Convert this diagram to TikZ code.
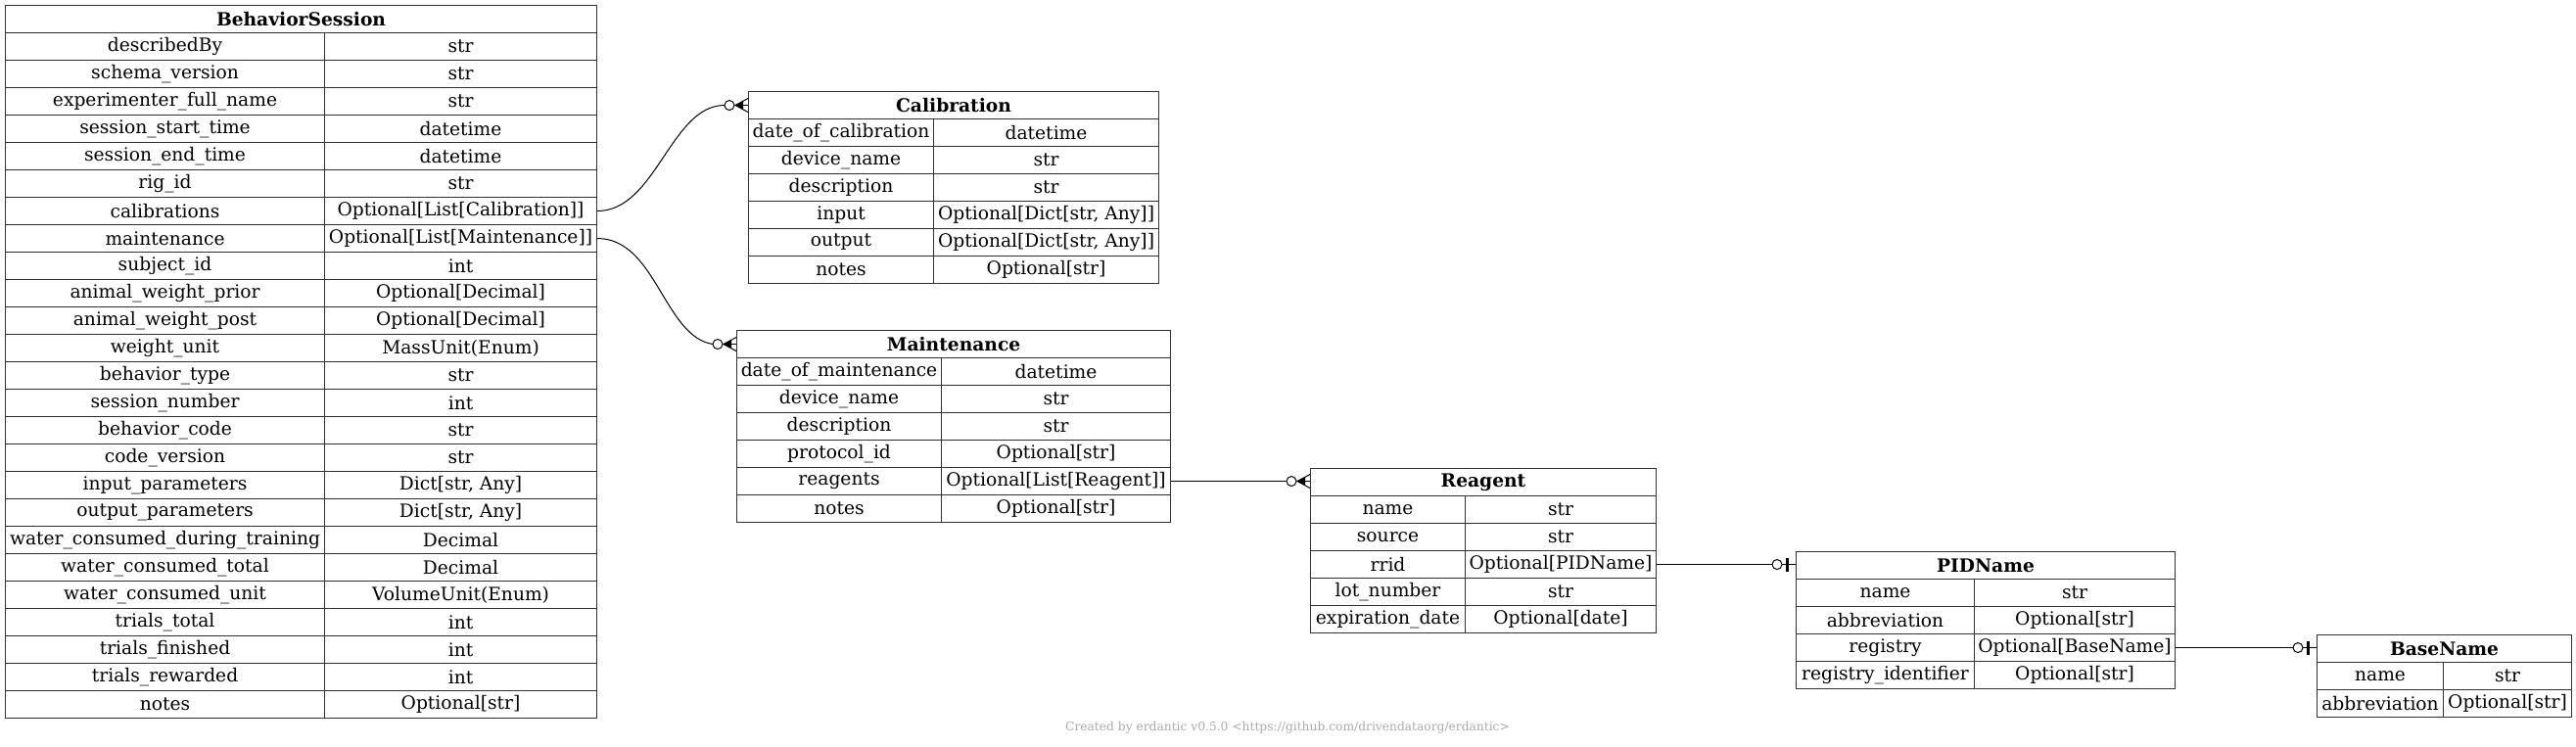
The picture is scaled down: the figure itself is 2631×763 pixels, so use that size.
\documentclass[tikz,border=0pt]{standalone}
\usepackage{fontspec}
\setmainfont{DejaVu Serif}
\usetikzlibrary{calc}
\tikzset{
  cellbox/.style={draw=black!80, line width=0.8pt, inner sep=0pt, anchor=north west,
    minimum height=21pt, font=\fontsize{14}{16}\selectfont, text=black},
  hdrbox/.style={cellbox, font=\fontsize{14}{16}\selectfont\bfseries},
  link/.style={draw=black, line width=0.75pt},
}
\newcommand{\ertable}[7]{%
  \node[hdrbox, minimum width={(#5-#2)*0.75pt}] (#1-h) at (#2,#3) {#6};
  \foreach[count=\i] \k/\v in {#7}{%
    \node[cellbox, minimum width={(#4-#2)*0.75pt}] (#1-k\i) at ({#2},{#3+28*\i}) {\k};
    \node[cellbox, minimum width={(#5-#4)*0.75pt}] (#1-v\i) at ({#4},{#3+28*\i}) {\v};
  }%
}
\newcommand{\manyend}[1]{%
  \draw[link] ($(#1)+(-14,0)$) -- (#1);
  \draw[link] ($(#1)+(-13,0)$) -- ($(#1)+(0,-7)$) ($(#1)+(-13,0)$) -- ($(#1)+(0,7)$);
  \fill ($(#1)+(-13,0)$) -- ($(#1)+(-5,-4.5)$) -- ($(#1)+(-5,4.5)$) -- cycle;
  \draw[link, fill=white] ($(#1)+(-19,0)$) circle[radius=3.75pt];
}
\newcommand{\oneend}[1]{%
  \draw[link] ($(#1)+(-14,0)$) -- (#1);
  \fill ($(#1)+(-10.5,-7)$) rectangle ($(#1)+(-7.5,7)$);
  \draw[link, fill=white] ($(#1)+(-19,0)$) circle[radius=3.75pt];
}
\begin{document}
\begin{tikzpicture}[x=0.75pt, y=-0.75pt]
\fill[white] (0,0) rectangle (2631,763);
\useasboundingbox (0,0) rectangle (2631,763);

\ertable{bs}{5}{5}{331}{609}{BehaviorSession}{%
describedBy/str,
schema\_version/str,
experimenter\_full\_name/str,
session\_start\_time/datetime,
session\_end\_time/datetime,
rig\_id/str,
calibrations/{Optional[List[Calibration]]},
maintenance/{Optional[List[Maintenance]]},
subject\_id/int,
animal\_weight\_prior/{Optional[Decimal]},
animal\_weight\_post/{Optional[Decimal]},
weight\_unit/{MassUnit(Enum)},
behavior\_type/str,
session\_number/int,
behavior\_code/str,
code\_version/str,
input\_parameters/{Dict[str, Any]},
output\_parameters/{Dict[str, Any]},
water\_consumed\_during\_training/Decimal,
water\_consumed\_total/Decimal,
water\_consumed\_unit/{VolumeUnit(Enum)},
trials\_total/int,
trials\_finished/int,
trials\_rewarded/int,
notes/{Optional[str]}}

\ertable{cal}{764}{93}{953}{1183}{Calibration}{%
date\_of\_calibration/datetime,
device\_name/str,
description/str,
input/{Optional[Dict[str, Any]]},
output/{Optional[Dict[str, Any]]},
notes/{Optional[str]}}

\ertable{mnt}{752}{337}{961}{1195}{Maintenance}{%
date\_of\_maintenance/datetime,
device\_name/str,
description/str,
protocol\_id/{Optional[str]},
reagents/{Optional[List[Reagent]]},
notes/{Optional[str]}}

\ertable{rea}{1338}{478}{1496}{1691}{Reagent}{%
name/str,
source/str,
rrid/{Optional[PIDName]},
lot\_number/str,
expiration\_date/{Optional[date]}}

\ertable{pid}{1834}{563}{2016}{2221}{PIDName}{%
name/str,
abbreviation/{Optional[str]},
registry/{Optional[BaseName]},
registry\_identifier/{Optional[str]}}

\ertable{bn}{2366}{648}{2495}{2626}{BaseName}{%
name/str,
abbreviation/{Optional[str]}}

% end points of the straight connectors, level with their source rows
\coordinate (e3) at (rea-h.west |- mnt-v5.east);
\coordinate (e4) at (pid-h.west |- rea-v3.east);
\coordinate (e5) at (bn-h.west |- pid-v3.east);

% connectors
\draw[link] (bs-v7.east) .. controls +(60,0) and +(-55,0) .. ($(cal-h.west)+(-24,0)$);
\manyend{cal-h.west}
\draw[link] (bs-v8.east) .. controls +(60,0) and +(-50,-8) .. ($(mnt-h.west)+(-24,0)$);
\manyend{mnt-h.west}
\draw[link] (mnt-v5.east) -- ($(e3)+(-24,0)$);
\manyend{e3}
\draw[link] (rea-v3.east) -- ($(e4)+(-24,0)$);
\oneend{e4}
\draw[link] (pid-v3.east) -- ($(e5)+(-24,0)$);
\oneend{e5}

\node[font=\fontsize{9.2}{11}\selectfont, text=black!33, inner sep=0pt] (credit) at (1315,743)
  {Created by erdantic v0.5.0 <https://github.com/drivendataorg/erdantic>};
\end{tikzpicture}
\end{document}
